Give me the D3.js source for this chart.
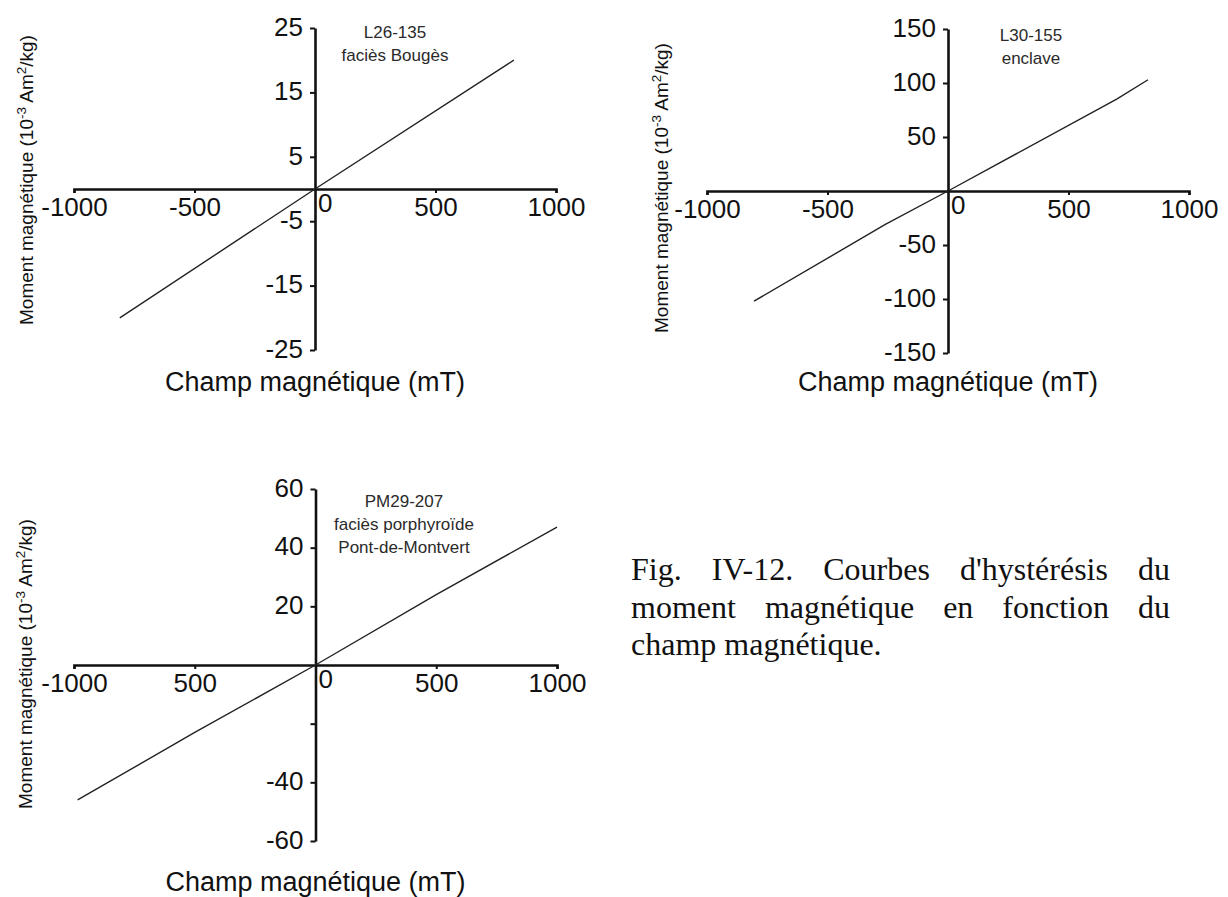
<!DOCTYPE html>
<html><head><meta charset="utf-8">
<script src="https://cdn.jsdelivr.net/npm/d3@7"></script>
<style>
body{margin:0;background:#fff;}
svg{display:block;}
</style></head><body>
<svg id="c" width="1228" height="897"></svg>
<script>
// ---- data ----
const xTickValues = [-1000, -500, 500, 1000];
const p1XLabels = ["-1000", "-500", "500", "1000"];
const p2XLabels = ["-1000", "-500", "500", "1000"];
const p3XLabels = ["-1000", "500", "500", "1000"];
const p1YTicks = [25, 15, 5, -5, -15, -25];
const p1YLabels = ["25", "15", "5", "-5", "-15", "-25"];
const p2YTicks = [150, 100, 50, -50, -100, -150];
const p2YLabels = ["150", "100", "50", "-50", "-100", "-150"];
const p3YTicks = [60, 40, 20, -20, -40, -60];
const p3YLabels = ["60", "40", "20", "", "-40", "-60"];
const p1Field = [-810, 0, 825];
const p1Moment = [-20, 0, 20];
const p2Field = [-805, -260, 0, 700, 830];
const p2Moment = [-102, -31, 0, 85, 103];
const p3Field = [-985, -500, 0, 500, 1000];
const p3Moment = [-46, -23, 0, 24, 47];
const p1Note = ["L26-135", "faciès Bougès"];
const p2Note = ["L30-155", "enclave"];
const p3Note = ["PM29-207", "faciès porphyroïde", "Pont-de-Montvert"];
const xTitle = "Champ magnétique (mT)";
const captionLines = ["Fig. IV-12. Courbes d'hystérésis du", "moment magnétique en fonction du", "champ magnétique."];

// ---- layout ----
const svg = d3.select("#c");
const SANS = "'Liberation Sans', Arial, Helvetica, sans-serif";
const SERIF = "'Liberation Serif', 'Times New Roman', serif";

const panels = [
  {field: p1Field, moment: p1Moment, xl: p1XLabels, yt: p1YTicks, yl: p1YLabels, note: p1Note,
   left: 74, right: 556, top: 28, bottom: 350, yDom: [-25, 25],
   noteX: 395, noteY: 38, ytX: 33, ytY: 180, xtY: 391},
  {field: p2Field, moment: p2Moment, xl: p2XLabels, yt: p2YTicks, yl: p2YLabels, note: p2Note,
   left: 707, right: 1189, top: 29, bottom: 353, yDom: [-150, 150],
   noteX: 1031, noteY: 41, ytX: 668, ytY: 188, xtY: 391},
  {field: p3Field, moment: p3Moment, xl: p3XLabels, yt: p3YTicks, yl: p3YLabels, note: p3Note,
   left: 74, right: 557, top: 489, bottom: 841, yDom: [-60, 60],
   noteX: 404, noteY: 507, ytX: 32, ytY: 664, xtY: 891}
];

panels.forEach(p => {
  const x = d3.scaleLinear().domain([-1000, 1000]).range([p.left, p.right]);
  const y = d3.scaleLinear().domain(p.yDom).range([p.bottom, p.top]);
  const g = svg.append("g");

  const xa = g.append("g").attr("transform", `translate(0,${y(0)})`)
    .call(d3.axisBottom(x).tickValues(xTickValues).tickFormat((d, i) => p.xl[i])
      .tickSize(4).tickSizeOuter(4).tickPadding(5));
  const ya = g.append("g").attr("transform", `translate(${x(0)},0)`)
    .call(d3.axisLeft(y).tickValues(p.yt).tickFormat((d, i) => p.yl[i])
      .tickSize(5).tickSizeOuter(0).tickPadding(7));
  [xa, ya].forEach(a => {
    a.select(".domain").attr("stroke", "#111").attr("stroke-width", 2.6);
    a.selectAll(".tick line").attr("stroke", "#111").attr("stroke-width", 2);
    a.selectAll(".tick text").attr("fill", "#111").style("font-family", SANS).style("font-size", "26px");
  });
  ya.selectAll(".tick text").attr("dy", "0.28em");

  // zero label
  g.append("text").attr("x", x(0) + 3).attr("y", y(0) + 5).attr("dy", "0.71em")
    .style("font-family", SANS).style("font-size", "26px").attr("fill", "#111").text("0");

  // curve
  const pts = p.field.map((f, i) => [f, p.moment[i]]);
  g.append("path").datum(pts)
    .attr("d", d3.line().x(d => x(d[0])).y(d => y(d[1])))
    .attr("fill", "none").attr("stroke", "#222").attr("stroke-width", 1.4);

  // note
  g.append("g").selectAll("text").data(p.note).join("text")
    .attr("x", p.noteX).attr("y", (d, i) => p.noteY + i * 23)
    .attr("text-anchor", "middle").style("font-family", SANS).style("font-size", "17px")
    .attr("fill", "#2a2a2a").text(d => d);

  // y title
  const yt = g.append("text").attr("transform", `translate(${p.ytX},${p.ytY}) rotate(-90)`)
    .attr("text-anchor", "middle").style("font-family", SANS).style("font-size", "19px").attr("fill", "#111");
  yt.append("tspan").text("Moment magnétique (10");
  yt.append("tspan").attr("dy", -7).style("font-size", "13.5px").text("-3");
  yt.append("tspan").attr("dy", 7).text(" Am");
  yt.append("tspan").attr("dy", -7).style("font-size", "13.5px").text("2");
  yt.append("tspan").attr("dy", 7).text("/kg)");

  // x title
  g.append("text").attr("x", x(0)).attr("y", p.xtY).attr("text-anchor", "middle")
    .style("font-family", SANS).style("font-size", "27px").attr("fill", "#111").text(xTitle);
});

// ---- caption (justified) ----
const capLeft = 631, capRight = 1170, capTop = 580, capStep = 37.5;
captionLines.forEach((line, li) => {
  const words = line.split(" ");
  const t = svg.append("g");
  const nodes = words.map(w => t.append("text").style("font-family", SERIF).style("font-size", "32px")
    .attr("fill", "#111").attr("y", capTop + li * capStep).text(w));
  const widths = nodes.map(n => n.node().getComputedTextLength());
  const total = d3.sum(widths);
  const justify = li < captionLines.length - 1;
  const gap = justify ? (capRight - capLeft - total) / (words.length - 1) : 8;
  let cx = capLeft;
  nodes.forEach((n, i) => { n.attr("x", cx); cx += widths[i] + gap; });
});
</script>
</body></html>
